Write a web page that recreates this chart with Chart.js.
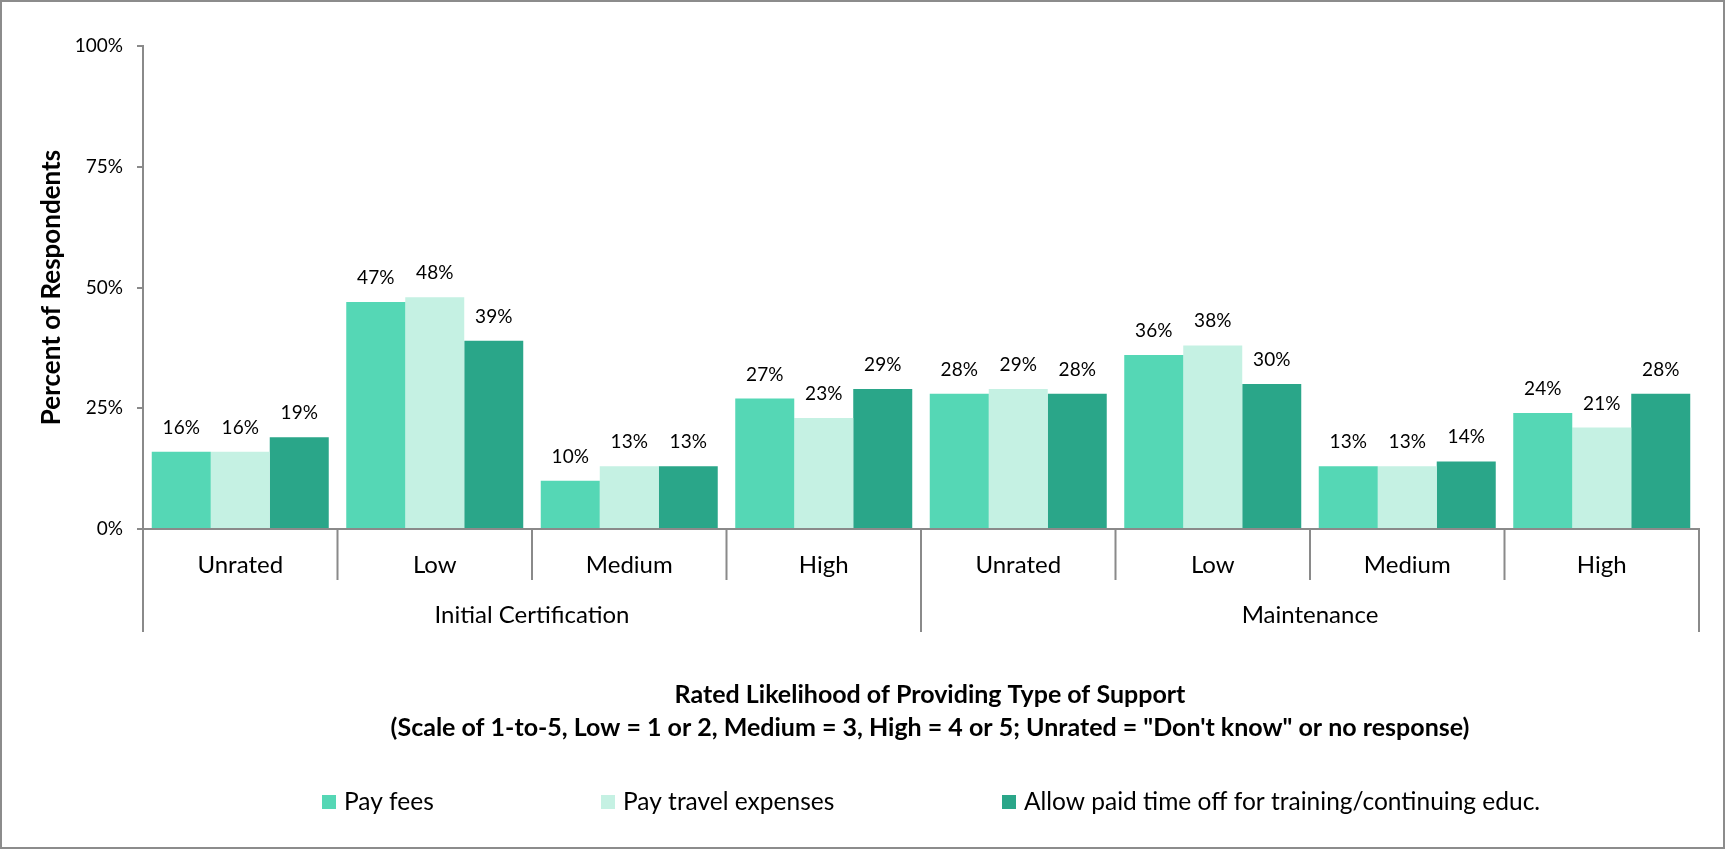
<!DOCTYPE html>
<html>
<head>
<meta charset="utf-8">
<script src="https://cdn.jsdelivr.net/npm/chart.js@4.4.1/dist/chart.umd.min.js"></script>
<style>
  html, body { margin: 0; padding: 0; background: #fff; }
  canvas { display: block; }
</style>
</head>
<body>
<canvas id="chart" width="1725" height="849"></canvas>
<script>
// rating levels, repeated for each support context
var levels = ["Unrated", "Low", "Medium", "High", "Unrated", "Low", "Medium", "High"];
var groups = ["Initial Certification", "Maintenance"];

// percent of respondents per level
var payFees = [16, 47, 10, 27, 28, 36, 13, 24];
var payTravel = [16, 48, 13, 23, 29, 38, 13, 21];
var paidTimeOff = [19, 39, 13, 29, 28, 30, 14, 28];

var seriesNames = ["Pay fees", "Pay travel expenses", "Allow paid time off for training/continuing educ."];
var seriesColors = ["#55d7b5", "#c5f1e3", "#2aa689"];
var yTicks = [0, 25, 50, 75, 100];
var xTitle = [
  "Rated Likelihood of Providing Type of Support",
  "(Scale of 1-to-5, Low = 1 or 2, Medium = 3, High = 4 or 5; Unrated = \"Don't know\" or no response)"
];

var FONT = "Lato, 'Open Sans', sans-serif";
var axisGray = "#8a8a8a";

// labels, separators, axis title and legend that Chart.js doesn't lay out this way
var extras = {
  id: "extras",
  beforeDraw: function (chart) {
    var c = chart.ctx;
    c.save();
    c.fillStyle = "#fff";
    c.fillRect(0, 0, chart.width, chart.height);
    c.restore();
  },
  afterDraw: function (chart) {
    var c = chart.ctx, area = chart.chartArea, x = chart.scales.x;
    var n = levels.length;
    var half = (x.getPixelForValue(1) - x.getPixelForValue(0)) / 2;
    c.save();

    // outer frame
    c.strokeStyle = "#8c8c8c";
    c.lineWidth = 2;
    c.strokeRect(1, 1, chart.width - 2, chart.height - 2);

    // baseline and category / group separators
    c.strokeStyle = axisGray;
    c.lineWidth = 2;
    c.beginPath();
    c.moveTo(area.left, area.bottom);
    c.lineTo(area.right + 1, area.bottom);
    for (var i = 0; i <= n; i++) {
      var px = i === 0 ? area.left : (i === n ? area.right : x.getPixelForValue(i) - half);
      var len = (i % 4 === 0) ? 103 : 51;
      c.moveTo(px, area.bottom);
      c.lineTo(px, area.bottom + len);
    }
    c.stroke();

    // value labels above bars
    c.fillStyle = "#000";
    c.textAlign = "center";
    c.textBaseline = "alphabetic";
    c.font = "19px " + FONT;
    chart.data.datasets.forEach(function (ds, di) {
      chart.getDatasetMeta(di).data.forEach(function (bar, j) {
        c.fillText(ds.data[j] + "%", bar.x, bar.y - 18);
      });
    });

    // level labels and group labels
    c.textBaseline = "middle";
    c.font = "24px " + FONT;
    levels.forEach(function (lab, j) {
      c.fillText(lab, x.getPixelForValue(j), area.bottom + 36);
    });
    groups.forEach(function (g, k) {
      var a = x.getPixelForValue(k * 4) - half;
      var b = x.getPixelForValue(k * 4 + 3) + half;
      c.fillText(g, (a + b) / 2, area.bottom + 86);
    });

    // x axis title
    c.font = "bold 25px " + FONT;
    var cx = (area.left + area.right) / 2 + 9;
    c.fillText(xTitle[0], cx, area.bottom + 166);
    c.fillText(xTitle[1], cx, area.bottom + 199);

    // legend
    var legendX = [322, 601, 1002];
    c.textAlign = "left";
    c.font = "24.5px " + FONT;
    seriesNames.forEach(function (name, k) {
      c.fillStyle = seriesColors[k];
      c.fillRect(legendX[k], 795, 14, 14);
      c.fillStyle = "#000";
      c.fillText(name, legendX[k] + 22, 802);
    });
    c.restore();
  }
};

var series = [payFees, payTravel, paidTimeOff];

new Chart(document.getElementById("chart").getContext("2d"), {
  type: "bar",
  data: {
    labels: levels,
    datasets: series.map(function (vals, k) {
      return {
        label: seriesNames[k],
        data: vals,
        backgroundColor: seriesColors[k],
        borderWidth: 0,
        categoryPercentage: 0.91,
        barPercentage: 1.0
      };
    })
  },
  options: {
    responsive: false,
    animation: false,
    layout: { padding: { left: 0, top: 46, right: 26, bottom: 320 } },
    plugins: {
      legend: { display: false },
      tooltip: { enabled: false }
    },
    scales: {
      x: { display: false },
      y: {
        min: 0,
        max: 100,
        afterBuildTicks: function (s) {
          s.ticks = yTicks.map(function (v) { return { value: v }; });
        },
        afterFit: function (s) { s.width = 143; },
        ticks: {
          callback: function (v) { return v + "%"; },
          font: { family: FONT, size: 19 },
          color: "#000",
          padding: 14
        },
        grid: { drawOnChartArea: false, drawTicks: true, tickLength: 6, color: axisGray, lineWidth: 2 },
        border: { color: axisGray, width: 2 },
        title: {
          display: true,
          text: "Percent of Respondents",
          font: { family: FONT, size: 26, weight: "bold" },
          color: "#000",
          padding: { top: 36, bottom: 0 }
        }
      }
    }
  },
  plugins: [extras]
});
</script>
</body>
</html>
